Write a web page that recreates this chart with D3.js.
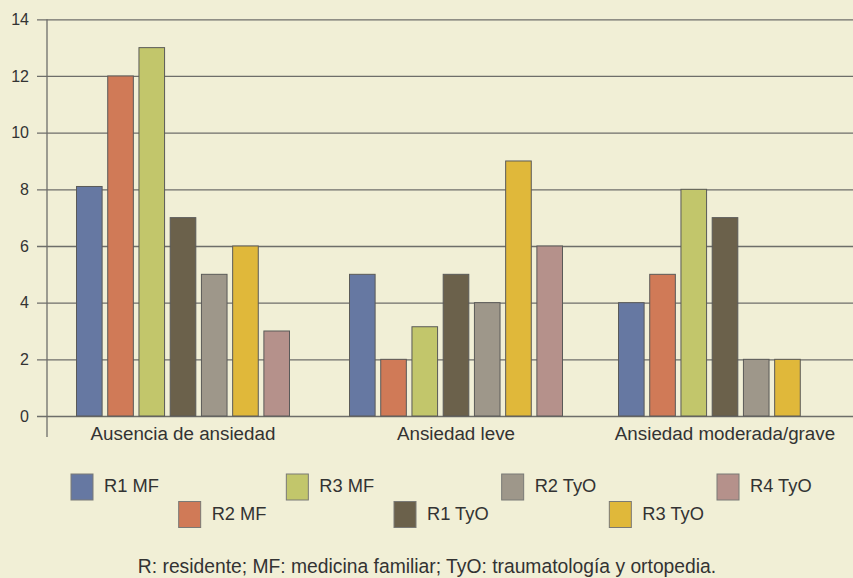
<!DOCTYPE html>
<html>
<head>
<meta charset="utf-8">
<script src="https://cdn.jsdelivr.net/npm/d3@7"></script>
<style>
html,body{margin:0;padding:0;background:#f1efd6;}
svg{display:block;}
text{font-family:"Liberation Sans",Arial,Helvetica,sans-serif;fill:#333;}
</style>
</head>
<body>
<svg id="chart" width="853" height="578"></svg>
<script>
const categories = ["Ausencia de ansiedad", "Ansiedad leve", "Ansiedad moderada/grave"];
const series = ["R1 MF", "R2 MF", "R3 MF", "R1 TyO", "R2 TyO", "R3 TyO", "R4 TyO"];
const colors = ["#6678a2", "#d07a57", "#c2c66b", "#6b614b", "#9e978a", "#e0b83a", "#b5918b"];
const values = [
  [8.1, 12, 13, 7, 5, 6, 3],
  [5, 2, 3.15, 5, 4, 9, 6],
  [4, 5, 8, 7, 2, 2, 0]
];
const yTicks = [0, 2, 4, 6, 8, 10, 12, 14];
const footnote = "R: residente; MF: medicina familiar; TyO: traumatología y ortopedia.";

const svg = d3.select("#chart");
const W = 853;
const axisX = 47, yTop = 19.3, yBottom = 416;

const y = d3.scaleLinear().domain([0, 14]).range([yBottom, yTop]);
const x0 = d3.scaleBand().domain(categories).range([axisX, axisX + 3 * 271]);
const x1 = d3.scaleBand().domain(series).range([29.5, 242.5]).paddingInner(0.18).paddingOuter(0);

// gridlines + tick marks
const gy = svg.append("g").attr("transform", `translate(${axisX},0)`)
  .call(d3.axisLeft(y).tickValues(yTicks).tickSize(-(W - axisX)).tickPadding(0).tickFormat(d3.format("d")));
gy.select(".domain").remove();
gy.selectAll(".tick line").attr("x1", -10).attr("stroke", "#6e6e6a").attr("stroke-width", 1.3);
gy.selectAll(".tick text").attr("x", -18).attr("font-size", 16).attr("fill", "#333")
  .style("font-family", "'Liberation Sans',Arial,sans-serif");

// y axis line
svg.append("line").attr("x1", axisX).attr("x2", axisX).attr("y1", yTop).attr("y2", 437)
  .attr("stroke", "#6e6e6a").attr("stroke-width", 1.3);

// bars
const groups = svg.append("g").selectAll("g").data(categories).join("g")
  .attr("transform", (d, i) => `translate(${x0(d) + (i === 1 ? 2 : 0)},0)`);
groups.selectAll("rect").data((c, ci) => series.map((s, si) => ({s, si, v: values[ci][si]})).filter(d => d.v > 0))
  .join("rect")
  .attr("x", d => x1(d.s))
  .attr("width", x1.bandwidth())
  .attr("y", d => y(d.v))
  .attr("height", d => y(0) - y(d.v))
  .attr("fill", d => colors[d.si])
  .attr("stroke", "#5a5a58")
  .attr("stroke-width", 1);

// category labels
svg.append("g").selectAll("text").data(categories).join("text")
  .attr("x", (d, i) => x0(d) + 136 + (i === 1 ? 2 : 0))
  .attr("y", 440)
  .attr("text-anchor", "middle")
  .attr("font-size", 18.8)
  .text(d => d);

// legend
const legX = d3.scaleLinear().domain([0, 6]).range([71, 717]);
const leg = svg.append("g").selectAll("g").data(series).join("g")
  .attr("transform", (d, i) => `translate(${legX(i)},${i % 2 === 0 ? 474 : 501.5})`);
leg.append("rect").attr("width", 22).attr("height", 26)
  .attr("fill", (d, i) => colors[i]).attr("stroke", "#7a7a76").attr("stroke-width", 1);
leg.append("text").attr("x", 33).attr("y", 18).attr("font-size", 18.3).text(d => d);

// footnote
svg.append("text").attr("x", 427).attr("y", 573).attr("text-anchor", "middle")
  .attr("font-size", 19.3).text(footnote);
</script>
</body>
</html>
